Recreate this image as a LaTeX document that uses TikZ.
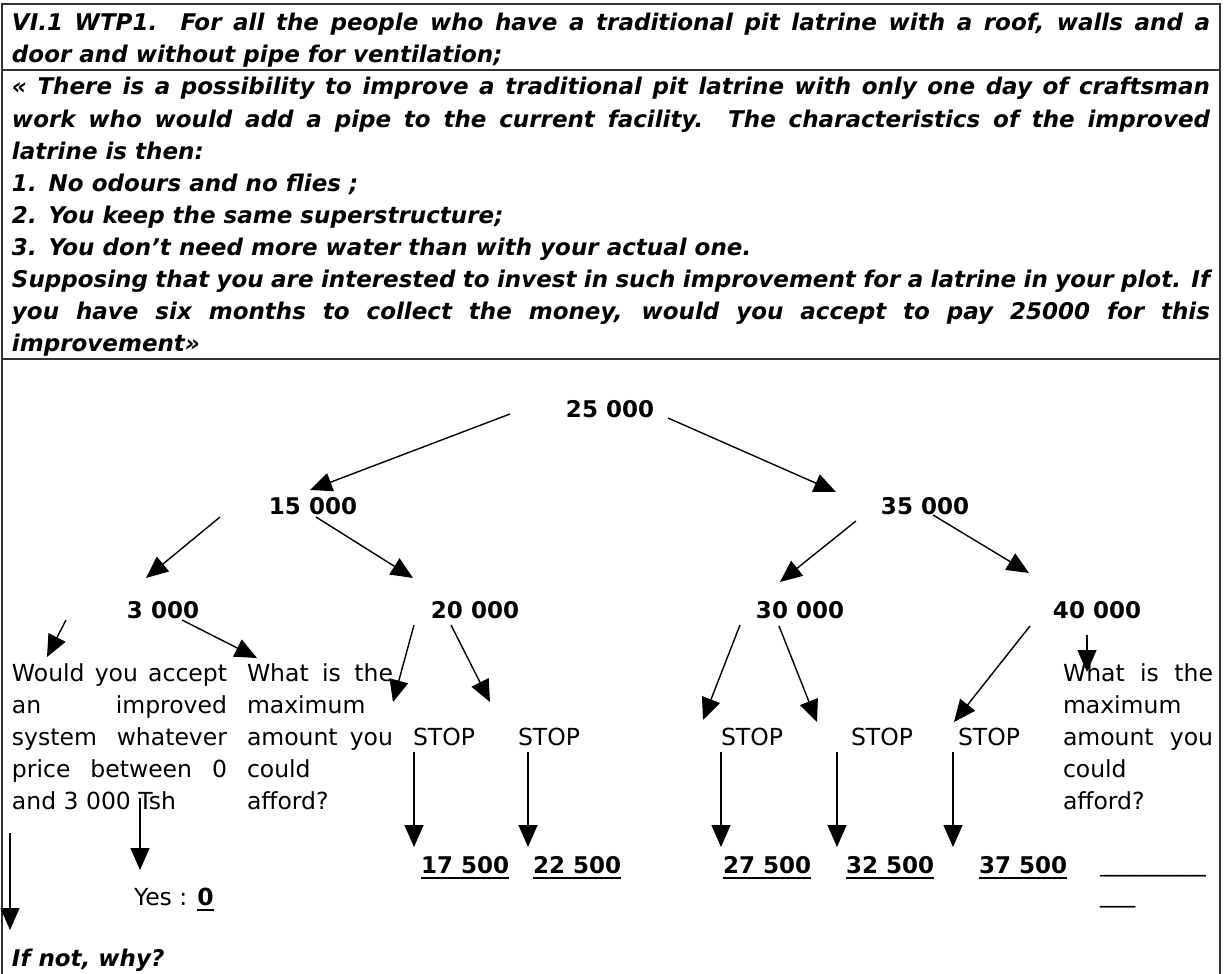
\documentclass[tikz,border=0pt]{standalone}
\usepackage{fontspec}
\setmainfont{DejaVu Sans}[BoldFont={DejaVu Sans Bold},ItalicFont={DejaVu Sans Oblique},BoldItalicFont={DejaVu Sans Bold Oblique}]
\usetikzlibrary{arrows.meta}
\newcommand\myfs{\fontsize{23.5}{32}\selectfont}
\newcommand\myfb{\fontsize{23}{32}\selectfont}
\newcommand\jl[2]{\hbox to #1{#2}}
\newcommand\myul[1]{\setbox0=\hbox{#1}\rlap{\rule[-6pt]{\wd0}{2pt}}\box0}
\newcommand\myarrow[3]{\coordinate (#1s) at (#2); \coordinate (#1e) at (#3); \draw[arr] (#1s) -- (#1e);}
\begin{document}
\begin{tikzpicture}[x=1pt,y=-1pt,
 txt/.style={anchor=base west,inner sep=0pt,outer sep=0pt,font=\myfs},
 hd/.style={anchor=base west,inner sep=0pt,outer sep=0pt,font=\myfb\bfseries\itshape},
 num/.style={anchor=base,inner sep=0pt,outer sep=0pt,font=\myfb\bfseries},
 bnum/.style={anchor=base west,inner sep=0pt,outer sep=0pt,font=\myfb\bfseries},
 arr/.style={-{Triangle[length=22pt,width=19pt]},line width=1.4pt},
 frame/.style={draw=black!80,line width=1.6pt}]
\useasboundingbox (0,0) rectangle (1227,974);
% table frame
\draw[frame] (2,974) -- (2,4) -- (1220,4) -- (1220,974);
\draw[frame] (2,70) -- (1220,70);
\draw[frame] (2,359) -- (1220,359);
% header row
\node[hd] (h1) at (12,31) {\jl{1198pt}{VI.1 WTP1.\ \ For all the people who have a traditional pit latrine with a roof, walls and a}};
\node[hd] (h2) at (12,63) {door and without pipe for ventilation;};
% question row
\node[hd] (q1) at (12,95) {\jl{1198pt}{« There is a possibility to improve a traditional pit latrine with only one day of craftsman}};
\node[hd] (q2) at (12,127) {\jl{1198pt}{work who would add a pipe to the current facility. The characteristics of the improved}};
\node[hd] (q3) at (12,159) {latrine is then:};
\node[hd] (q4) at (12,191) {1.\hspace{12pt}No odours and no flies ;};
\node[hd] (q5) at (12,223) {2.\hspace{12pt}You keep the same superstructure;};
\node[hd] (q6) at (12,255) {3.\hspace{12pt}You don’t need more water than with your actual one.};
\node[hd] (q7) at (12,287) {\jl{1198pt}{Supposing that you are interested to invest in such improvement for a latrine in your plot. If}};
\node[hd] (q8) at (12,319) {\jl{1198pt}{you have six months to collect the money, would you accept to pay 25000 for this}};
\node[hd] (q9) at (12,351) {improvement»};
% tree numbers
\node[num] (n25) at (610,417) {25 000};
\node[num] (n15) at (313,514) {15 000};
\node[num] (n35) at (925,514) {35 000};
\node[num] (n3) at (163,618) {3 000};
\node[num] (n20) at (475,618) {20 000};
\node[num] (n30) at (800,618) {30 000};
\node[num] (n40) at (1097,618) {40 000};
% left text block
\node[txt] (w1) at (12,681) {\jl{215pt}{Would you accept}};
\node[txt] (w2) at (12,713) {\jl{215pt}{an improved}};
\node[txt] (w3) at (12,745) {\jl{215pt}{system whatever}};
\node[txt] (w4) at (12,777) {\jl{215pt}{price between 0}};
\node[txt] (w5) at (12,809) {and 3 000 Tsh};
% middle text block
\node[txt] (m1) at (247,681) {\jl{146pt}{What is the}};
\node[txt] (m2) at (247,713) {maximum};
\node[txt] (m3) at (247,745) {\jl{146pt}{amount you}};
\node[txt] (m4) at (247,777) {could};
\node[txt] (m5) at (247,809) {afford?};
% right text block
\node[txt] (r1) at (1063,681) {\jl{150pt}{What is the}};
\node[txt] (r2) at (1063,713) {maximum};
\node[txt] (r3) at (1063,745) {\jl{150pt}{amount you}};
\node[txt] (r4) at (1063,777) {could};
\node[txt] (r5) at (1063,809) {afford?};
% STOP labels
\node[txt] (s1) at (413,745) {STOP};
\node[txt] (s2) at (518,745) {STOP};
\node[txt] (s3) at (721,745) {STOP};
\node[txt] (s4) at (851,745) {STOP};
\node[txt] (s5) at (958,745) {STOP};
% bottom amounts
\node[bnum] (b1) at (421,873) {\myul{17 500}};
\node[bnum] (b2) at (533,873) {\myul{22 500}};
\node[bnum] (b3) at (723,873) {\myul{27 500}};
\node[bnum] (b4) at (846,873) {\myul{32 500}};
\node[bnum] (b5) at (979,873) {\myul{37 500}};
\node[txt] (yes) at (134,905) {Yes : \textbf{\myul{0}}};
\node[txt] (bl1) at (1100,871) {\_\_\_\_\_\_\_\_\_};
\node[txt] (bl2) at (1100,902) {\_\_\_};
\node[hd] (why) at (12,966) {If not, why?};
% arrows
\myarrow{a1}{510,414}{310,490}
\myarrow{a2}{668,418}{836,492}
\myarrow{a3}{220,517}{146,578}
\myarrow{a4}{316,517}{413,578}
\myarrow{a5}{856,521}{780,582}
\myarrow{a6}{933,515}{1029,573}
\myarrow{a7}{66,620}{47,657}
\myarrow{a8}{182,620}{257,658}
\myarrow{a9}{414,625}{393,702}
\myarrow{a10}{451,625}{490,702}
\myarrow{a11}{740,625}{703,720}
\myarrow{a12}{779,626}{817,722}
\myarrow{a13}{1030,626}{954,722}
\myarrow{a14}{1087,635}{1087,672}
\myarrow{d1}{414,752}{414,847}
\myarrow{d2}{528,752}{528,847}
\myarrow{d3}{721,752}{721,847}
\myarrow{d4}{837,752}{837,847}
\myarrow{d5}{953,752}{953,847}
\myarrow{d6}{140,798}{140,870}
\myarrow{d7}{10,833}{10,930}
\end{tikzpicture}
\end{document}
